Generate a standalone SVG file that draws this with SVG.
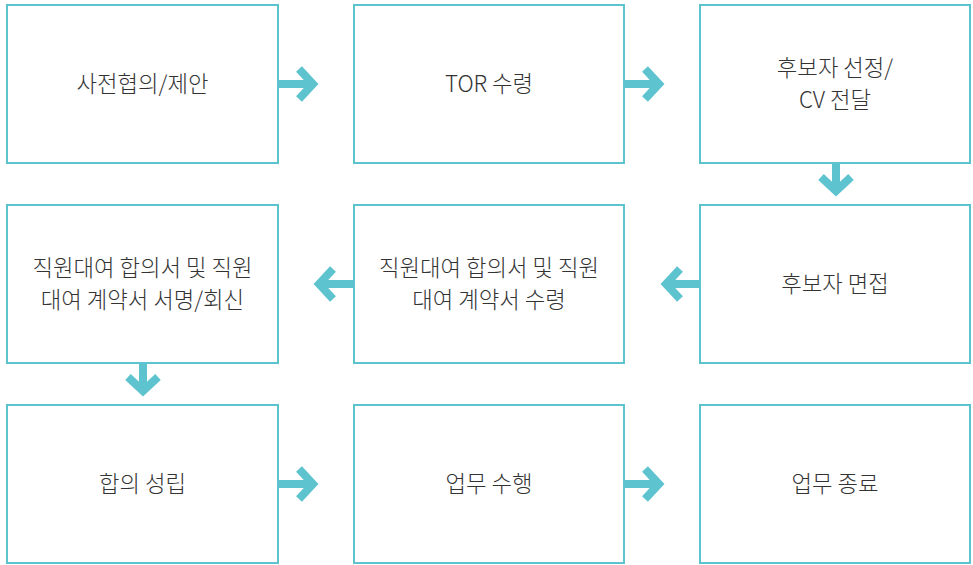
<svg xmlns="http://www.w3.org/2000/svg" width="973" height="565" viewBox="0 0 973 565">
<style>
.box{fill:#fff;stroke:#5cc3cf;stroke-width:2}
.t{font-family:"Noto Sans CJK KR","Noto Sans",sans-serif;font-size:22.3px;font-weight:300;fill:#333;text-anchor:middle;dominant-baseline:central}
.a{fill:none;stroke:#5cc3cf;stroke-width:8;stroke-linejoin:miter;stroke-miterlimit:10}
</style>
<rect width="973" height="565" fill="#fff"/>
<g id="n1"><rect class="box" x="7" y="5" width="271" height="158"/><text class="t" x="142.5" y="82">사전협의/제안</text></g>
<g id="n2"><rect class="box" x="354" y="5" width="270" height="158"/><text class="t" x="489" y="82">TOR 수령</text></g>
<g id="n3"><rect class="box" x="700" y="5" width="270" height="158"/><text class="t" x="835" y="66">후보자 선정/</text><text class="t" x="835" y="98">CV 전달</text></g>
<g id="n4"><rect class="box" x="700" y="205" width="270" height="158"/><text class="t" x="835" y="282">후보자 면접</text></g>
<g id="n5"><rect class="box" x="354" y="205" width="270" height="158"/><text class="t" x="489" y="266">직원대여 합의서 및 직원</text><text class="t" x="489" y="298">대여 계약서 수령</text></g>
<g id="n6"><rect class="box" x="7" y="205" width="271" height="158"/><text class="t" x="142.5" y="266">직원대여 합의서 및 직원</text><text class="t" x="142.5" y="298">대여 계약서 서명/회신</text></g>
<g id="n7"><rect class="box" x="7" y="405" width="271" height="158"/><text class="t" x="142.5" y="482">합의 성립</text></g>
<g id="n8"><rect class="box" x="354" y="405" width="270" height="158"/><text class="t" x="489" y="482">업무 수행</text></g>
<g id="n9"><rect class="box" x="700" y="405" width="270" height="158"/><text class="t" x="835" y="482">업무 종료</text></g>
<g id="connectors">
<path class="a" d="M279,84 H313 M299,69 L313,84 L299,99"/>
<path class="a" d="M625,84 H659 M645,69 L659,84 L645,99"/>
<path class="a" d="M836,164 V191 M821,177 L836,191 L851,177"/>
<path class="a" d="M699,284 H666 M680,269 L666,284 L680,299"/>
<path class="a" d="M353,284 H319 M333,269 L319,284 L333,299"/>
<path class="a" d="M143,364 V391 M128,377 L143,391 L158,377"/>
<path class="a" d="M279,484 H313 M299,469 L313,484 L299,499"/>
<path class="a" d="M625,484 H659 M645,469 L659,484 L645,499"/>
</g>
</svg>
